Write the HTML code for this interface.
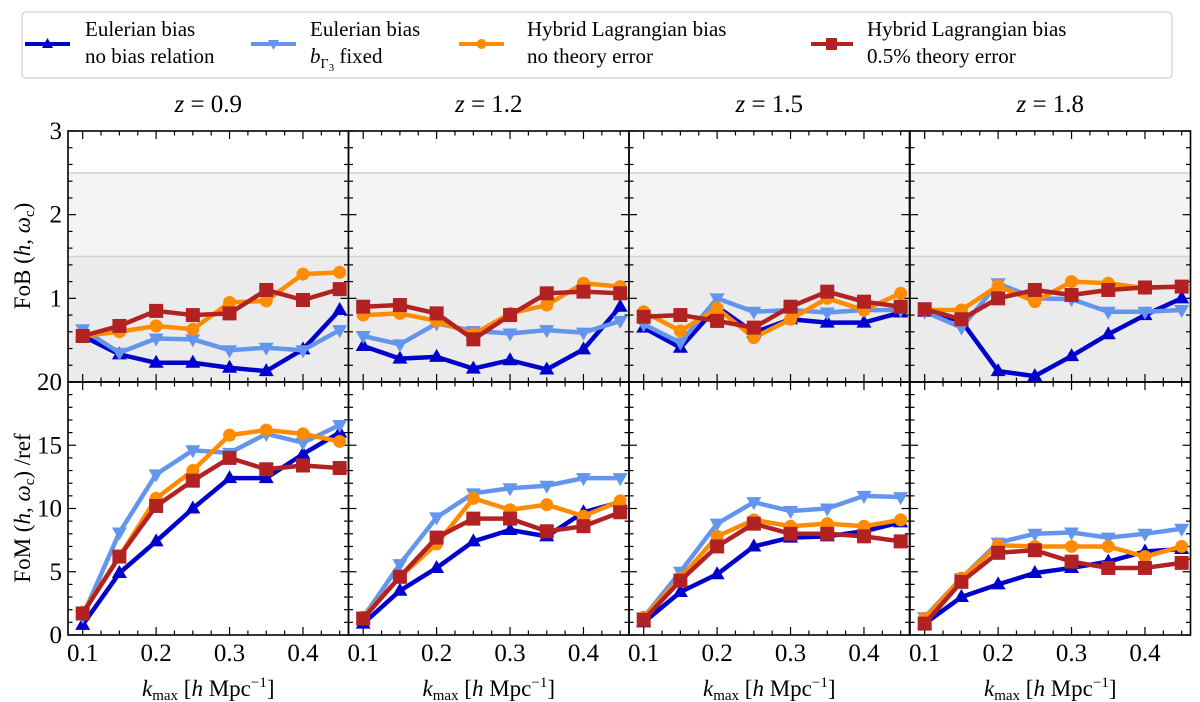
<!DOCTYPE html>
<html><head><meta charset="utf-8"><style>
body{margin:0;background:#fff;}
svg{display:block;}
svg text{font-family:"Liberation Serif","DejaVu Serif",serif;}
</style></head><body>
<svg id="chart" width="1200" height="702" viewBox="0 0 1200 702" xmlns="http://www.w3.org/2000/svg" font-family="Liberation Serif, DejaVu Serif, serif">
<g>
<rect x="22" y="12" width="1150" height="66" rx="4" fill="#fff" stroke="#d0d0d0" stroke-width="1.2"/>
<g>
<line x1="25" y1="44" x2="70" y2="44" stroke="#0000CD" stroke-width="4"/><polygon points="47.5,38 53,48 42,48" fill="#0000CD"/>
<text x="85" y="36" font-size="21">Eulerian bias</text><text x="85" y="63" font-size="21">no bias relation</text></g>
<g>
<line x1="251" y1="44" x2="296" y2="44" stroke="#6495ED" stroke-width="4"/><polygon points="268,40 279,40 273.5,50" fill="#6495ED"/>
<text x="310" y="36" font-size="21">Eulerian bias</text><text x="310" y="63" font-size="21"><tspan font-style="italic">b</tspan><tspan font-size="14" dy="5">Γ</tspan><tspan font-size="11" dy="3">3</tspan><tspan dy="-8"> fixed</tspan></text></g>
<g>
<line x1="459" y1="44" x2="504" y2="44" stroke="#FF8C00" stroke-width="4"/><circle cx="481.5" cy="44" r="5" fill="#FF8C00"/>
<text x="527" y="36" font-size="21">Hybrid Lagrangian bias</text><text x="527" y="63" font-size="21">no theory error</text></g>
<g>
<line x1="811" y1="44" x2="853" y2="44" stroke="#B22222" stroke-width="4"/><rect x="826" y="38" width="11" height="12" fill="#B22222"/>
<text x="867" y="36" font-size="21">Hybrid Lagrangian bias</text><text x="867" y="63" font-size="21">0.5% theory error</text></g>
</g>
<g id="plots"></g>
<text transform="translate(30,256) rotate(-90)" text-anchor="middle" font-size="23">FoB (<tspan font-style="italic">h</tspan>, <tspan font-style="italic">ω</tspan><tspan font-size="15" dy="4">c</tspan><tspan dy="-4">)</tspan></text>
<text transform="translate(30,508) rotate(-90)" text-anchor="middle" font-size="23">FoM (<tspan font-style="italic">h</tspan>, <tspan font-style="italic">ω</tspan><tspan font-size="15" dy="4">c</tspan><tspan dy="-4">) /ref</tspan></text>
</svg>
<script>
const redshifts = ["0.9","1.2","1.5","1.8"];
const kmax = [0.10,0.15,0.20,0.25,0.30,0.35,0.40,0.45];
const xTicks = [0.1,0.2,0.3,0.4];
const xTickLabels = ["0.1","0.2","0.3","0.4"];
const fobTicks = [0,1,2,3];
const fomTicks = [0,5,10,15,20];
// FoB per redshift
const fobEuler = [[0.55,0.33,0.23,0.23,0.17,0.13,0.39,0.86],[0.43,0.28,0.30,0.16,0.26,0.15,0.39,0.90],[0.65,0.41,0.90,0.59,0.75,0.71,0.71,0.83],[0.84,0.73,0.13,0.07,0.31,0.57,0.80,1.00]];
const fobEulerFixed = [[0.63,0.35,0.52,0.51,0.38,0.41,0.38,0.62],[0.55,0.45,0.70,0.61,0.58,0.62,0.59,0.73],[0.69,0.47,1.00,0.84,0.86,0.83,0.86,0.86],[0.84,0.65,1.18,1.00,0.99,0.84,0.84,0.86]];
const fobHybrid = [[0.55,0.60,0.67,0.63,0.95,0.97,1.29,1.31],[0.80,0.82,0.73,0.57,0.82,0.92,1.18,1.14],[0.84,0.61,0.88,0.53,0.75,1.00,0.86,1.06],[0.86,0.86,1.15,0.96,1.20,1.18,1.12,1.14]];
const fobHybridErr = [[0.55,0.67,0.85,0.80,0.82,1.10,0.98,1.11],[0.90,0.92,0.82,0.51,0.80,1.06,1.08,1.06],[0.78,0.80,0.73,0.65,0.90,1.08,0.96,0.90],[0.87,0.75,1.00,1.10,1.04,1.10,1.13,1.14]];
// FoM per redshift
const fomEuler = [[0.8,4.9,7.4,10.0,12.4,12.4,14.3,16.0],[0.9,3.5,5.3,7.4,8.3,7.8,9.7,10.5],[1.0,3.4,4.8,7.0,7.7,7.8,8.2,8.9],[0.9,3.0,4.0,4.9,5.3,5.8,6.6,6.8]];
const fomEulerFixed = [[1.5,8.1,12.7,14.6,14.4,15.9,15.2,16.6],[1.4,5.6,9.3,11.2,11.6,11.8,12.4,12.4],[1.4,5.0,8.8,10.5,9.8,10.0,11.0,10.9],[1.4,4.5,7.3,8.0,8.1,7.7,8.0,8.4]];
const fomHybrid = [[1.8,6.2,10.8,13.0,15.8,16.2,15.9,15.3],[1.4,4.6,7.2,10.8,9.9,10.3,9.4,10.6],[1.4,4.5,7.8,9.1,8.6,8.8,8.6,9.1],[1.3,4.5,7.1,7.0,7.0,7.0,6.2,7.0]];
const fomHybridErr = [[1.7,6.2,10.2,12.2,14.0,13.1,13.4,13.2],[1.3,4.6,7.7,9.2,9.2,8.2,8.6,9.7],[1.2,4.3,7.0,8.8,8.0,8.0,7.8,7.4],[0.9,4.2,6.5,6.7,5.8,5.3,5.3,5.7]];

const NS="http://www.w3.org/2000/svg";
const root=document.getElementById('plots');
function mk(tag,attrs,parent){const e=document.createElementNS(NS,tag);for(const k in attrs)e.setAttribute(k,attrs[k]);(parent||root).appendChild(e);return e;}
const panelL=[68,348.5,629,910], panelW=280.5;
const xMin=0.08,xMax=0.462;
const rows=[{top:131,bot:382,min:0,max:3,minor:0.2,ticks:fobTicks,name:'fob'},{top:382,bot:635,min:0,max:20,minor:1,ticks:fomTicks,name:'fom'}];
const series=[
 {name:'eulerian',fob:fobEuler,fom:fomEuler,color:'#0000CD',m:'up'},
 {name:'eulerian-fixed',fob:fobEulerFixed,fom:fomEulerFixed,color:'#6495ED',m:'down'},
 {name:'hybrid',fob:fobHybrid,fom:fomHybrid,color:'#FF8C00',m:'circle'},
 {name:'hybrid-error',fob:fobHybridErr,fom:fomHybridErr,color:'#B22222',m:'square'}];

for(let p=0;p<4;p++){
 const L=panelL[p];
 const xs=v=>L+(v-xMin)/(xMax-xMin)*panelW;
 const t=mk('text',{x:L+panelW/2,y:112,'text-anchor':'middle','font-size':'25'});
 
 
 t.innerHTML='<tspan font-style="italic">z</tspan> = '+redshifts[p];
 rows.forEach((r,ri)=>{
  const ys=v=>r.bot-(v-r.min)/(r.max-r.min)*(r.bot-r.top);
  const g=mk('g',{});
  
  
  if(ri===0){
   const b1=mk('rect',{x:L,y:ys(2.5),width:panelW,height:ys(1.5)-ys(2.5),fill:'#f4f4f4'},g);
   
   
   const b2=mk('rect',{x:L,y:ys(1.5),width:panelW,height:ys(0)-ys(1.5),fill:'#ebebeb'},g);
   
   
   mk('line',{x1:L,x2:L+panelW,y1:ys(2.5),y2:ys(2.5),stroke:'#d2d2d2','stroke-width':1.5},g);
   mk('line',{x1:L,x2:L+panelW,y1:ys(1.5),y2:ys(1.5),stroke:'#d2d2d2','stroke-width':1.5},g);
  }
  for(let v=r.min;v<=r.max+1e-9;v+=r.minor){
   const y=ys(v);const maj=r.ticks.some(tk=>Math.abs(tk-v)<1e-6);const len=maj?8:4.5;
   mk('line',{x1:L,x2:L+len,y1:y,y2:y,stroke:'#000','stroke-width':1.2},g);
   mk('line',{x1:L+panelW,x2:L+panelW-len,y1:y,y2:y,stroke:'#000','stroke-width':1.2},g);
  }
  for(let v=0.1;v<=0.4601;v+=0.025){
   const x=xs(v);const maj=xTicks.some(tk=>Math.abs(tk-v)<1e-6);const len=maj?8:4.5;
   mk('line',{x1:x,x2:x,y1:r.bot,y2:r.bot-len,stroke:'#000','stroke-width':1.2},g);
   mk('line',{x1:x,x2:x,y1:r.top,y2:r.top+len,stroke:'#000','stroke-width':1.2},g);
  }
  if(p===0){
   r.ticks.forEach(tk=>{
    if(ri===0&&tk===0)return;
    const tl=mk('text',{x:L-6,y:ys(tk)+8,'text-anchor':'end','font-size':'25'},g);
    
    
    tl.textContent=String(tk);
   });
  }
  series.forEach(s=>{
   const vals=s[r.name][p];
   const pts=vals.map((v,i)=>xs(kmax[i])+','+ys(v)).join(' ');
   const sg=mk('g',{},g);
   
   
   mk('polyline',{points:pts,fill:'none',stroke:s.color,'stroke-width':4.5,'stroke-linejoin':'round'},sg);
   vals.forEach((v,i)=>{
    const x=xs(kmax[i]),y=ys(v);let m;
    if(s.m==='up')m=mk('polygon',{points:`${x},${y-8} ${x+7.5},${y+5} ${x-7.5},${y+5}`,fill:s.color},sg);
    else if(s.m==='down')m=mk('polygon',{points:`${x-7.5},${y-5} ${x+7.5},${y-5} ${x},${y+8}`,fill:s.color},sg);
    else if(s.m==='circle')m=mk('circle',{cx:x,cy:y,r:6.5,fill:s.color},sg);
    else m=mk('rect',{x:x-7,y:y-7,width:14,height:14,fill:s.color},sg);
    
    
   });
  });
  mk('rect',{x:L,y:r.top,width:panelW,height:r.bot-r.top,fill:'none',stroke:'#000','stroke-width':1.6},g);
  if(ri===1){
   xTicks.forEach((tk,i)=>{
    const tl=mk('text',{x:xs(tk),y:661,'text-anchor':'middle','font-size':'25'},g);
    
    
    tl.textContent=xTickLabels[i];
   });
   const xt=mk('text',{x:L+panelW/2,y:696,'text-anchor':'middle','font-size':'23'},g);
   
   
   xt.innerHTML='<tspan font-style="italic">k</tspan><tspan font-size="15" dy="4">max</tspan><tspan dy="-4"> [</tspan><tspan font-style="italic">h</tspan> Mpc<tspan font-size="15" dy="-9">−1</tspan><tspan dy="9">]</tspan>';
  }
 });
}
</script>
</body></html>
